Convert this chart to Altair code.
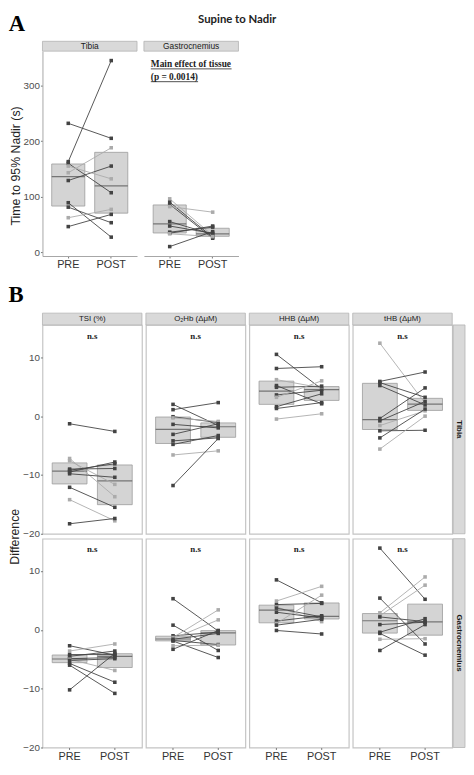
import altair as alt
import pandas as pd

CONDS = ["PRE", "POST"]

# ---------------- Panel A : time to 95% nadir (s) ----------------
A_TISSUES = ["Tibia", "Gastrocnemius"]
A_TIBIA_PRE = [232, 163, 160, 143, 129, 155, 89, 81, 62, 46]
A_TIBIA_POST = [205, 345, 107, 188, 155, 132, 27, 53, 77, 68]
A_TIBIA_TONE = ["d", "d", "d", "l", "d", "l", "d", "d", "l", "d"]
A_GASTRO_PRE = [96, 90, 86, 82, 55, 47, 36, 34, 33, 10]
A_GASTRO_POST = [30, 27, 25, 72, 32, 34, 45, 47, 28, 37]
A_GASTRO_TONE = ["l", "d", "d", "l", "d", "d", "d", "d", "l", "d"]
A_TICKS = [0, 100, 200, 300]
A_NOTE = ["Main effect of tissue", "(p = 0.0014)"]

# ---------------- Panel B : differences ----------------
B_VARS = ["TSI (%)", "O\u2082Hb (\u0394\u03bcM)", "HHB (\u0394\u03bcM)", "tHB (\u0394\u03bcM)"]
B_TISSUES = ["Tibia", "Gastrocnemius"]
B_TICKS = [-20, -10, 0, 10]

TIB_TSI_PRE = [-1.3, -7.2, -7.6, -9.0, -9.2, -9.5, -9.8, -12.1, -14.2, -18.3]
TIB_TSI_POST = [-2.6, -13.7, -11.6, -8.9, -8.1, -7.8, -10.4, -15.5, -17.8, -17.4]
TIB_TSI_TONE = ["d", "l", "l", "d", "d", "d", "d", "d", "l", "d"]

TIB_O2HB_PRE = [2.0, 1.1, -0.1, -0.3, -1.4, -3.1, -4.2, -4.8, -6.6, -11.8]
TIB_O2HB_POST = [-1.6, 2.3, -1.1, -0.9, -2.0, -1.3, -3.7, -3.3, -5.9, -3.8]
TIB_O2HB_TONE = ["d", "d", "d", "l", "d", "d", "d", "d", "l", "d"]

TIB_HHB_PRE = [10.5, 8.1, 6.2, 5.2, 4.9, 3.6, 3.2, 1.6, 1.3, -0.5]
TIB_HHB_POST = [4.6, 8.4, 4.8, 2.1, 5.1, 4.4, 6.0, 3.8, 2.3, 0.4]
TIB_HHB_TONE = ["d", "d", "l", "d", "d", "d", "l", "d", "d", "l"]

TIB_THB_PRE = [12.4, 5.9, 5.7, 5.2, -0.4, -0.8, -1.6, -2.5, -3.7, -5.6]
TIB_THB_POST = [2.2, 7.5, 3.2, 1.9, 4.8, 2.5, 0.9, -2.4, 1.2, 0.0]
TIB_THB_TONE = ["l", "d", "d", "d", "d", "d", "l", "d", "d", "l"]

GAS_TSI_PRE = [-2.7, -3.6, -4.2, -4.5, -4.9, -5.0, -5.2, -5.7, -6.0, -10.2]
GAS_TSI_POST = [-4.3, -2.4, -4.2, -3.6, -4.7, -6.9, -4.9, -8.9, -10.8, -4.0]
GAS_TSI_TONE = ["d", "l", "d", "d", "d", "l", "d", "d", "d", "d"]

GAS_O2HB_PRE = [5.3, 0.8, -1.0, -1.3, -1.5, -1.6, -1.8, -1.9, -2.7, -3.3]
GAS_O2HB_POST = [-0.2, -3.5, -0.4, 3.4, 1.7, -0.6, -2.5, -4.7, -2.6, -0.1]
GAS_O2HB_TONE = ["d", "d", "d", "l", "l", "d", "d", "d", "l", "d"]

GAS_HHB_PRE = [8.5, 4.9, 4.3, 3.9, 3.7, 3.0, 1.5, 1.1, 0.8, -0.1]
GAS_HHB_POST = [4.6, 7.4, 4.5, 1.4, 2.2, 2.0, 2.4, 5.9, 1.8, -0.7]
GAS_HHB_TONE = ["d", "l", "d", "l", "d", "d", "d", "l", "d", "d"]

GAS_THB_PRE = [13.9, 5.4, 2.9, 2.4, 2.2, 0.9, -0.4, -0.6, -1.6, -3.5]
GAS_THB_POST = [5.2, -2.4, 9.0, 7.6, 1.4, 1.3, 1.9, -4.3, -1.5, 0.9]
GAS_THB_TONE = ["d", "d", "l", "l", "d", "d", "d", "d", "l", "d"]

B_DATA = {
    ("Tibia", 0): (TIB_TSI_PRE, TIB_TSI_POST, TIB_TSI_TONE),
    ("Tibia", 1): (TIB_O2HB_PRE, TIB_O2HB_POST, TIB_O2HB_TONE),
    ("Tibia", 2): (TIB_HHB_PRE, TIB_HHB_POST, TIB_HHB_TONE),
    ("Tibia", 3): (TIB_THB_PRE, TIB_THB_POST, TIB_THB_TONE),
    ("Gastrocnemius", 0): (GAS_TSI_PRE, GAS_TSI_POST, GAS_TSI_TONE),
    ("Gastrocnemius", 1): (GAS_O2HB_PRE, GAS_O2HB_POST, GAS_O2HB_TONE),
    ("Gastrocnemius", 2): (GAS_HHB_PRE, GAS_HHB_POST, GAS_HHB_TONE),
    ("Gastrocnemius", 3): (GAS_THB_PRE, GAS_THB_POST, GAS_THB_TONE),
}

# ---------------- styling ----------------
BOX_FILL = "#d4d4d4"
BOX_STROKE = "#9c9c9c"
MED_COLOR = "#4d4d4d"
DARK = "#434343"
LIGHT = "#ababab"
STRIP_FILL = "#d9d9d9"
STRIP_STROKE = "#b3b3b3"
BORDER = "#c4c4c4"
SANS = "Liberation Sans"
SERIF = "Liberation Serif"


def make_df(pre, post, tone):
    rows = []
    for i, (a, b, t) in enumerate(zip(pre, post, tone)):
        rows.append(dict(subject=i + 1, cond="PRE", value=a, tone=t))
        rows.append(dict(subject=i + 1, cond="POST", value=b, tone=t))
    return pd.DataFrame(rows)


def panel(df, W, H, dom, ticks, show_y=False, y_title=None, y_title_y=None,
          show_x=False, axis_lines=False, border=True, strip_top=None,
          strip_h=12, strip_font=8, strip_right=None, ns=False, note=False):
    xscale = alt.Scale(type="band", domain=CONDS, paddingInner=0.23, paddingOuter=0.215)
    yscale = alt.Scale(domain=dom, nice=False, zero=False)
    if show_x:
        xaxis = alt.Axis(title=None, labelAngle=0, labelFontSize=11, labelColor="#333333",
                         labelFont=SANS, tickSize=2, tickColor="#777777",
                         domain=axis_lines, domainColor="#a6a6a6", labelPadding=1)
    else:
        xaxis = None
    if show_y:
        yaxis_kw = dict(values=ticks, labelFontSize=10, labelColor="#4d4d4d", labelFont=SANS,
                        tickSize=2, tickColor="#777777", domain=axis_lines,
                        domainColor="#a6a6a6", grid=False, labelPadding=1,
                        titlePadding=1, titleFontSize=12.5, titleFontWeight="normal",
                        titleColor="#222222", titleFont=SANS)
        if y_title is not None:
            yaxis_kw["title"] = y_title
            if y_title_y is not None:
                yaxis_kw["titleY"] = y_title_y
        else:
            yaxis_kw["title"] = ""
        yaxis = alt.Axis(**yaxis_kw)
    else:
        yaxis = None

    def X():
        return alt.X("cond:N", scale=xscale, axis=xaxis, sort=CONDS)

    def Y(field):
        return alt.Y(f"{field}:Q", scale=yscale, axis=yaxis)

    tone_color = alt.Color("tone:N", scale=alt.Scale(domain=["d", "l"], range=[DARK, LIGHT]),
                           legend=None)
    bw = W * 0.35
    base = alt.Chart(df)
    layers = []
    box = base.transform_aggregate(
        q1="q1(value)", q3="q3(value)", groupby=["cond"]
    ).mark_bar(color=BOX_FILL, stroke=BOX_STROKE, strokeWidth=0.8).encode(
        x=X(), y=Y("q1"), y2="q3:Q")
    med = base.transform_aggregate(
        med="median(value)", groupby=["cond"]
    ).mark_tick(color=MED_COLOR, thickness=1.2, size=bw).encode(x=X(), y=Y("med"))
    lines = base.mark_line(strokeWidth=0.9).encode(
        x=X(), y=Y("value"), detail="subject:N", color=tone_color)
    pts = base.mark_square(size=13, opacity=1).encode(
        x=X(), y=Y("value"), color=tone_color)
    layers += [box, med, lines, pts]

    if strip_top is not None:
        sdf = pd.DataFrame({"label": [strip_top]})
        layers.append(alt.Chart(sdf).mark_rect(fill=STRIP_FILL, stroke=STRIP_STROKE,
                                               strokeWidth=0.8).encode(
            x=alt.value(0), x2=alt.value(W), y=alt.value(-strip_h), y2=alt.value(0)))
        layers.append(alt.Chart(sdf).mark_text(fontSize=strip_font, color="#1a1a1a",
                                               font=SANS).encode(
            x=alt.value(W / 2), y=alt.value(-strip_h / 2), text="label:N"))
    if strip_right is not None:
        rdf = pd.DataFrame({"label": [strip_right]})
        layers.append(alt.Chart(rdf).mark_rect(fill=STRIP_FILL, stroke=STRIP_STROKE,
                                               strokeWidth=0.8).encode(
            x=alt.value(W + 1), x2=alt.value(W + 13), y=alt.value(0), y2=alt.value(H)))
        layers.append(alt.Chart(rdf).mark_text(fontSize=8, color="#1a1a1a", font=SANS,
                                               fontWeight="bold", angle=90).encode(
            x=alt.value(W + 7), y=alt.value(H / 2), text="label:N"))
    if ns:
        ndf = pd.DataFrame({"t": ["n.s"]})
        layers.append(alt.Chart(ndf).mark_text(font=SERIF, fontWeight="bold", fontSize=9,
                                               color="#222222").encode(
            x=alt.value(W / 2), y=alt.value(11), text="t:N"))
    if note:
        for i, line in enumerate(A_NOTE):
            tdf = pd.DataFrame({"t": [line]})
            layers.append(alt.Chart(tdf).mark_text(font=SERIF, fontWeight="bold", fontSize=9.5,
                                                   align="left", baseline="alphabetic",
                                                   color="#222222").encode(
                x=alt.value(7), y=alt.value(16 + 13 * i), text="t:N"))
        ul = pd.DataFrame({"k": [0]})
        layers.append(alt.Chart(ul).mark_rule(color="#222222", strokeWidth=0.8).encode(
            x=alt.value(7), x2=alt.value(89), y=alt.value(18)))
        layers.append(alt.Chart(ul).mark_rule(color="#222222", strokeWidth=0.8).encode(
            x=alt.value(7), x2=alt.value(55), y=alt.value(31)))

    view = alt.ViewBackground(stroke=BORDER if border else "transparent", strokeWidth=1.2,
                              fill="white")
    return alt.layer(*layers).properties(width=W, height=H, view=view)


# ---------------- build panel A ----------------
AW, AH = 96, 208
A_DOM = [-7, 362]
a_tib = panel(make_df(A_TIBIA_PRE, A_TIBIA_POST, A_TIBIA_TONE), AW, AH, A_DOM, A_TICKS,
              show_y=True, y_title="Time to 95% Nadir (s)", y_title_y=AH / 2 + 12,
              show_x=True, axis_lines=True, border=False, strip_top=A_TISSUES[0],
              strip_h=10, strip_font=8.5)
a_gas = panel(make_df(A_GASTRO_PRE, A_GASTRO_POST, A_GASTRO_TONE), AW, AH, A_DOM, A_TICKS,
              show_x=True, axis_lines=True, border=False, strip_top=A_TISSUES[1],
              strip_h=10, strip_font=8.5, note=True)
panelA = alt.hconcat(a_tib, a_gas, spacing=5).properties(
    title=alt.Title("A", anchor="start", frame="bounds", font=SERIF, fontSize=23,
                    fontWeight="bold", color="#000000", offset=4))

# ---------------- build panel B ----------------
BW_, BH = 101, 212
B_DOM = [-20, 15.5]
b_panels = []
for r, tissue in enumerate(B_TISSUES):
    for c, var in enumerate(B_VARS):
        pre, post, tone = B_DATA[(tissue, c)]
        b_panels.append(panel(
            make_df(pre, post, tone), BW_, BH, B_DOM, B_TICKS,
            show_y=(c == 0),
            y_title=("Difference" if (r == 0 and c == 0) else None),
            y_title_y=BH + 2.5,
            show_x=(r == 1), axis_lines=False, border=True,
            strip_top=(var if r == 0 else None), strip_h=12, strip_font=8,
            strip_right=(tissue if c == 3 else None), ns=True))

panelB = alt.concat(*b_panels, columns=4, spacing={"row": 5, "column": 4},
                    bounds="flush").properties(
    title=alt.Title("B", anchor="start", frame="bounds", font=SERIF, fontSize=23,
                    fontWeight="bold", color="#000000", offset=5))

chart = alt.vconcat(panelA, panelB, spacing=14).properties(
    padding=0,
    title=alt.Title("Supine to Nadir", anchor="middle", font="Lato", fontSize=11.5,
                    fontWeight="bold", color="#222222", offset=-12),
).configure(background="white")

chart.save("out.html", embed_options={"renderer": "svg", "actions": False})
